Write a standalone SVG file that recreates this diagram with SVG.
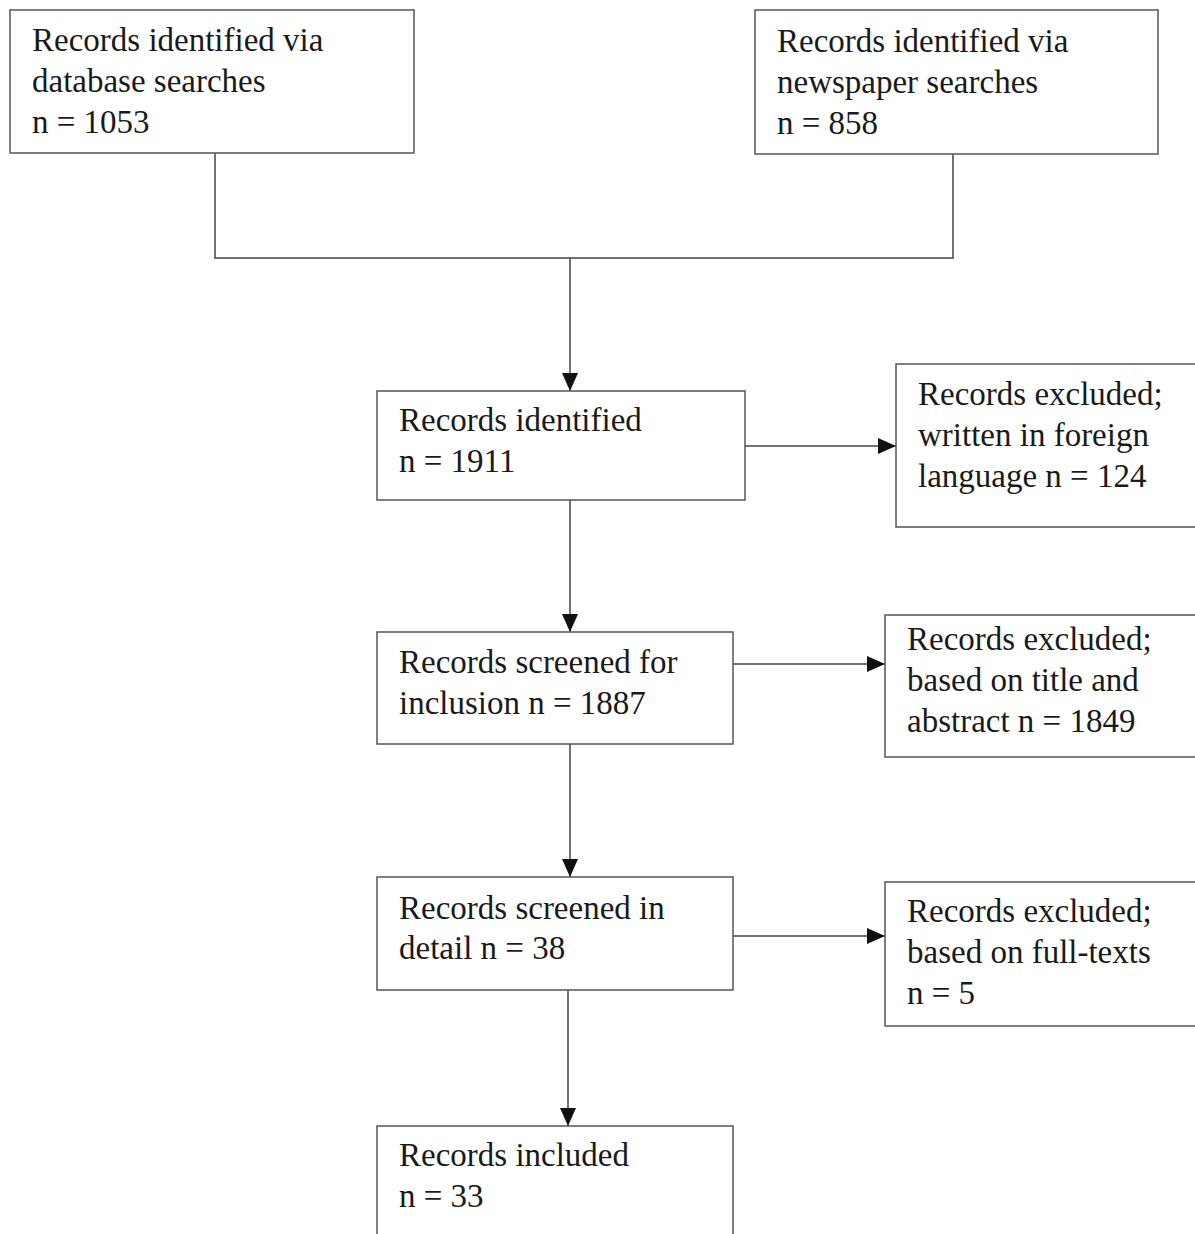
<svg xmlns="http://www.w3.org/2000/svg" width="1195" height="1234" viewBox="0 0 1195 1234">
<style>
.box{fill:#fff;stroke:#555;stroke-width:1.5}
.t{font-family:"Liberation Serif","Times New Roman",serif;font-size:33px;fill:#1a1a1a}
.c{fill:none;stroke:#444;stroke-width:1.5}
</style>
<defs>
<marker id="ah" markerWidth="18" markerHeight="16" refX="18" refY="8" orient="auto" markerUnits="userSpaceOnUse">
<path d="M0,0 L18,8 L0,16 Z" fill="#111"/>
</marker>
</defs>
<g id="connectors">
<polyline class="c" points="215,153 215,258 953,258 953,154"/>
<line class="c" x1="570" y1="258" x2="570" y2="391" marker-end="url(#ah)"/>
<line class="c" x1="745" y1="446" x2="896" y2="446" marker-end="url(#ah)"/>
<line class="c" x1="570" y1="500" x2="570" y2="632" marker-end="url(#ah)"/>
<line class="c" x1="733" y1="664" x2="885" y2="664" marker-end="url(#ah)"/>
<line class="c" x1="570" y1="744" x2="570" y2="877" marker-end="url(#ah)"/>
<line class="c" x1="733" y1="936" x2="885" y2="936" marker-end="url(#ah)"/>
<line class="c" x1="568" y1="990" x2="568" y2="1126" marker-end="url(#ah)"/>
</g>
<g id="db">
<rect class="box" x="10" y="10" width="404" height="143"/>
<text class="t" x="32" y="51">Records identified via</text>
<text class="t" x="32" y="92">database searches</text>
<text class="t" x="32" y="133">n = 1053</text>
</g>
<g id="news">
<rect class="box" x="755" y="10" width="403" height="144"/>
<text class="t" x="777" y="52">Records identified via</text>
<text class="t" x="777" y="93">newspaper searches</text>
<text class="t" x="777" y="134">n = 858</text>
</g>
<g id="identified">
<rect class="box" x="377" y="391" width="368" height="109"/>
<text class="t" x="399" y="431">Records identified</text>
<text class="t" x="399" y="472">n = 1911</text>
</g>
<g id="excl1">
<rect class="box" x="896" y="364" width="310" height="163"/>
<text class="t" x="918" y="405">Records excluded;</text>
<text class="t" x="918" y="446">written in foreign</text>
<text class="t" x="918" y="487">language n = 124</text>
</g>
<g id="screened">
<rect class="box" x="377" y="632" width="356" height="112"/>
<text class="t" x="399" y="673">Records screened for</text>
<text class="t" x="399" y="714">inclusion n = 1887</text>
</g>
<g id="excl2">
<rect class="box" x="885" y="615" width="320" height="142"/>
<text class="t" x="907" y="650">Records excluded;</text>
<text class="t" x="907" y="691">based on title and</text>
<text class="t" x="907" y="732">abstract n = 1849</text>
</g>
<g id="detail">
<rect class="box" x="377" y="877" width="356" height="113"/>
<text class="t" x="399" y="919">Records screened in</text>
<text class="t" x="399" y="959">detail n = 38</text>
</g>
<g id="excl3">
<rect class="box" x="885" y="882" width="320" height="144"/>
<text class="t" x="907" y="922">Records excluded;</text>
<text class="t" x="907" y="963">based on full-texts</text>
<text class="t" x="907" y="1004">n = 5</text>
</g>
<g id="included">
<rect class="box" x="377" y="1126" width="356" height="120"/>
<text class="t" x="399" y="1166">Records included</text>
<text class="t" x="399" y="1207">n = 33</text>
</g>
</svg>
